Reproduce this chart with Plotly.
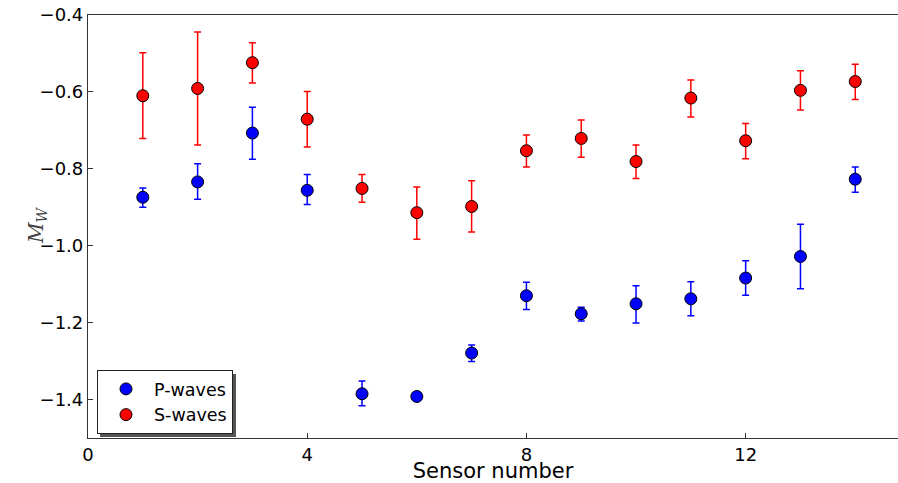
import plotly.graph_objects as go

sensors = list(range(1, 15))

p_mw = [-0.874, -0.834, -0.707, -0.856, -1.385, -1.392, -1.279, -1.130, -1.177, -1.151, -1.138, -1.084, -1.028, -0.827]
p_upper = [-0.850, -0.787, -0.640, -0.815, -1.352, -1.388, -1.258, -1.095, -1.160, -1.104, -1.094, -1.039, -0.944, -0.795]
p_lower = [-0.900, -0.879, -0.775, -0.893, -1.416, -1.396, -1.301, -1.166, -1.196, -1.201, -1.182, -1.129, -1.112, -0.861]

s_mw = [-0.610, -0.591, -0.524, -0.671, -0.851, -0.914, -0.898, -0.753, -0.721, -0.781, -0.616, -0.727, -0.596, -0.573]
s_upper = [-0.498, -0.444, -0.472, -0.599, -0.815, -0.847, -0.831, -0.712, -0.673, -0.738, -0.569, -0.682, -0.545, -0.528]
s_lower = [-0.721, -0.738, -0.577, -0.743, -0.887, -0.983, -0.964, -0.795, -0.770, -0.825, -0.665, -0.774, -0.647, -0.620]

x_ticks = [0, 4, 8, 12]
y_ticks = [-1.4, -1.2, -1.0, -0.8, -0.6, -0.4]

W, H = 898, 483
ML, MR, MT, MB = 88, 0, 15, 45
PW, PH = W - ML - MR, H - MT - MB


def px_x(p):
    return (p - ML) / PW


def px_y(p):
    return (H - MB - p) / PH


fig = go.Figure()

for name, vals, up, lo, col in [
    ("P-waves", p_mw, p_upper, p_lower, "#0000ff"),
    ("S-waves", s_mw, s_upper, s_lower, "#ff0000"),
]:
    fig.add_trace(go.Scatter(
        x=sensors, y=vals, mode="markers", name=name,
        marker=dict(size=12, color=col, line=dict(color="black", width=1)),
        error_y=dict(type="data", symmetric=False,
                     array=[u - v for u, v in zip(up, vals)],
                     arrayminus=[v - l for v, l in zip(vals, lo)],
                     color=col, thickness=1.5, width=3.5),
    ))

# legend shadow
fig.add_shape(type="rect", xref="paper", yref="paper",
              x0=px_x(100), x1=px_x(236), y0=px_y(437), y1=px_y(374),
              fillcolor="#555555", line=dict(width=0), layer="above")

fig.add_annotation(text="<i>M</i><sub><i>W</i></sub>", xref="paper", yref="paper",
                   x=px_x(22), y=px_y(226), showarrow=False, textangle=-90,
                   font=dict(family="DejaVu Serif", size=20, color="#444444"))

fig.update_layout(
    width=W, height=H,
    margin=dict(l=ML, r=MR, t=MT, b=MB),
    paper_bgcolor="white", plot_bgcolor="white",
    font=dict(family="DejaVu Sans", color="black"),
    showlegend=True,
    legend=dict(x=px_x(97), y=px_y(434), xanchor="left", yanchor="bottom",
                bgcolor="white", bordercolor="#222222", borderwidth=1,
                font=dict(size=17.5), itemwidth=46, tracegroupgap=0),
    xaxis=dict(range=[0, 14.78], tickvals=x_ticks, ticks="inside", ticklen=5,
               tickcolor="#333", showgrid=False, zeroline=False,
               showline=True, linecolor="#333", linewidth=1.2, mirror=True,
               tickfont=dict(size=18),
               title=dict(text="Sensor number", font=dict(size=21), standoff=4)),
    yaxis=dict(range=[-1.5, -0.4], tickvals=y_ticks, tickformat=".1f",
               ticks="inside", ticklen=5, tickcolor="#333", showgrid=False,
               zeroline=False, showline=True, linecolor="#333", linewidth=1.2,
               tickfont=dict(size=18)),
)

fig.write_html("out.html")
